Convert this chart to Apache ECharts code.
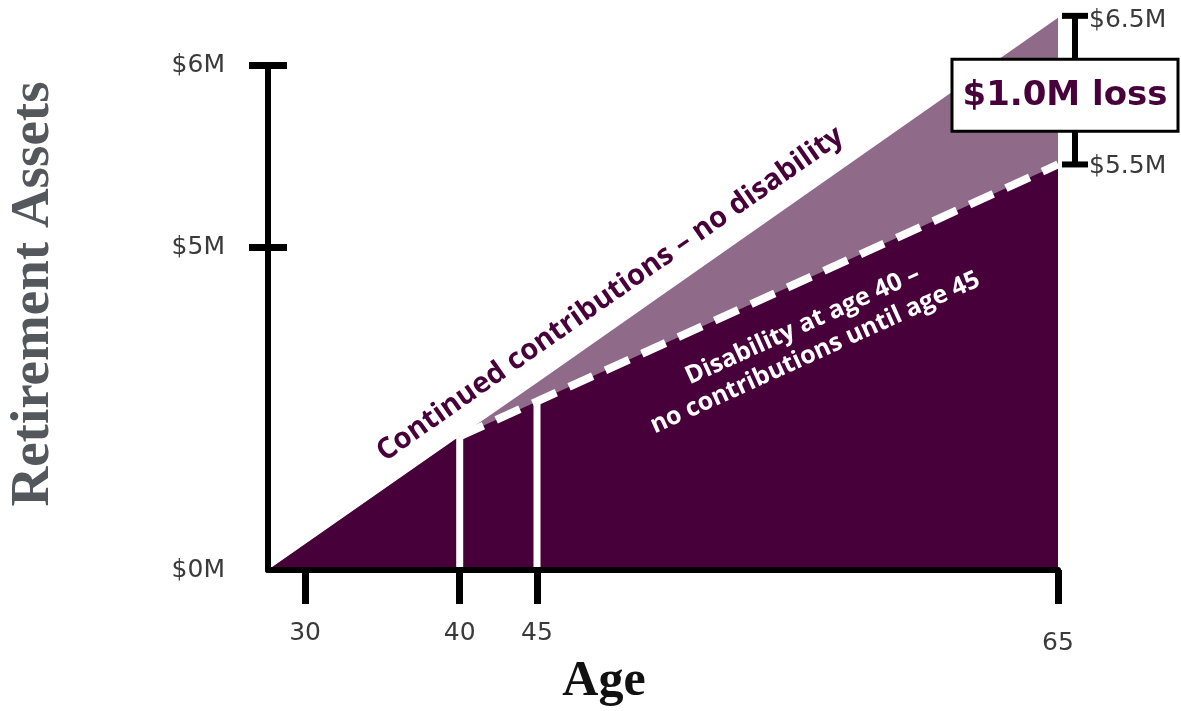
<!DOCTYPE html>
<html>
<head>
<meta charset="utf-8">
<script src="https://cdn.jsdelivr.net/npm/echarts@6/dist/echarts.min.js"></script>
<style>
  html, body { margin: 0; padding: 0; background: #fff; }
  #chart { width: 1181px; height: 711px; }
</style>
</head>
<body>
<div id="chart"></div>
<script>
// ---- Data (ages in years, assets in $M) ----
const ageTicks = [30, 40, 45, 65];
const assetTicksLeft = [0, 5, 6];
const continuedAges = [27.6, 40, 45, 65];
const continuedAssets = [0, 2.07, 2.9, 6.5];
const disabilityAges = [40, 45, 65];
const disabilityAssets = [2.07, 2.61, 5.5];
const breakAges = [40, 45];          // disability starts / contributions resume
const finalAge = 65;
const finalContinued = 6.5;
const finalDisability = 5.5;

// ---- Schematic scales: the drawing stretches later years and larger balances ----
const ageScale = { from: [27.6, 45, 65], to: [0, 17.4, 51.1] };
const assetScale = { from: [0, 5, 5.5, 6, 6.5], to: [0, 5, 6.28, 7.82, 8.55] };

function piecewise(v, from, to) {
  for (let i = 0; i < from.length - 1; i++) {
    if (v <= from[i + 1] || i === from.length - 2) {
      const t = (v - from[i]) / (from[i + 1] - from[i]);
      return to[i] + t * (to[i + 1] - to[i]);
    }
  }
}
const ax = a => piecewise(a, ageScale.from, ageScale.to);
const ay = v => piecewise(v, assetScale.from, assetScale.to);
const axInv = u => piecewise(u, ageScale.to, ageScale.from);
const ayInv = u => piecewise(u, assetScale.to, assetScale.from);

const dark = '#48003a';
const light = '#8f6b89';
const tickFont = '"DejaVu Sans", sans-serif';
const captionFont = '"Open Sans", sans-serif';
const tickColor = '#3a3a3a';

const continuedPts = continuedAges.map((a, i) => [ax(a), ay(continuedAssets[i])]);
const disabilityPts = disabilityAges.map((a, i) => [ax(a), ay(disabilityAssets[i])]);
// lower envelope: continued line up to age 40, then the disability path
const lowerPts = [continuedPts[0]].concat(disabilityPts);

const verticalSeries = breakAges.map(a => {
  const v = disabilityAssets[disabilityAges.indexOf(a)];
  return {
    type: 'line', clip: false, symbol: 'none', silent: true, z: 4,
    data: [[ax(a), 0], [ax(a), ay(v)]],
    lineStyle: { color: '#fff', width: 7 }
  };
});

const lineLabels = [
  { text: 'Continued contributions \u2013 no disability', at: 0.455, offset: 30,
    font: 'bold 29px ' + captionFont, color: dark, lineHeight: 32 },
  { text: 'Disability at age 40 \u2013\nno contributions until age 45', at: 0.545, offset: -56,
    font: 'bold 25px ' + captionFont, color: '#fff', lineHeight: 30 }
];

const chart = echarts.init(document.getElementById('chart'), null, { renderer: 'canvas' });

const yMaxUnit = ay(6);

chart.setOption({
  animation: false,
  backgroundColor: '#fff',
  grid: { left: 268, right: 123, top: 65, bottom: 141, containLabel: false },
  xAxis: {
    type: 'value', min: 0, max: ax(finalAge), z: 10,
    splitLine: { show: false },
    axisLine: { lineStyle: { color: '#000', width: 6 } },
    axisTick: { customValues: ageTicks.map(ax), length: 34, lineStyle: { color: '#000', width: 7 } },
    axisLabel: {
      customValues: ageTicks.map(ax), margin: 51,
      formatter: u => {
        const a = Math.round(axInv(u));
        return a === finalAge ? '{low|' + a + '}' : '{n|' + a + '}';
      },
      rich: {
        n: { fontFamily: tickFont, fontSize: 25, color: tickColor },
        low: { fontFamily: tickFont, fontSize: 25, color: tickColor, padding: [10, 0, 0, 0] }
      }
    }
  },
  yAxis: [
    {
      type: 'value', min: 0, max: yMaxUnit, position: 'left', z: 10,
      splitLine: { show: false },
      axisLine: { lineStyle: { color: '#000', width: 6 } },
      axisTick: { customValues: [ay(5), ay(6)], length: 19, lineStyle: { color: '#000', width: 7 } },
      axisLabel: {
        customValues: assetTicksLeft.map(ay), margin: 43,
        fontFamily: tickFont, fontSize: 25, color: tickColor,
        formatter: u => '$' + Math.round(ayInv(u)) + 'M'
      }
    },
    {
      type: 'value', min: 0, max: yMaxUnit, position: 'left', z: 10,
      splitLine: { show: false },
      axisLine: { show: false },
      axisTick: { inside: true, customValues: [ay(5), ay(6)], length: 19, lineStyle: { color: '#000', width: 7 } },
      axisLabel: { show: false }
    }
  ],
  graphic: [
    {
      type: 'text', x: 34, y: 294, rotation: Math.PI / 2,
      style: { text: 'Retirement Assets', font: 'bold 55px "Liberation Serif", serif',
               fill: '#54585c', align: 'center', verticalAlign: 'middle' }
    },
    {
      type: 'text', x: 604, y: 682,
      style: { text: 'Age', font: 'bold 50px "Liberation Serif", serif',
               fill: '#111', align: 'center', verticalAlign: 'middle' }
    }
  ],
  series: [
    {
      name: 'Continued contributions', type: 'line', clip: false, symbol: 'none', z: 2,
      data: continuedPts,
      lineStyle: { width: 0 },
      areaStyle: { color: light, opacity: 1 }
    },
    {
      name: 'Disability at age 40', type: 'line', clip: false, symbol: 'none', z: 3,
      data: lowerPts,
      lineStyle: { width: 0 },
      areaStyle: { color: dark, opacity: 1 }
    },
    {
      name: 'Disability path', type: 'line', clip: false, symbol: 'none', z: 5,
      data: disabilityPts,
      lineStyle: { color: '#fff', width: 8, type: [26, 14] }
    },
    ...verticalSeries,
    {
      // rotated captions laid along each path
      type: 'custom', clip: false, z: 6, silent: true,
      data: [
        [continuedPts[0][0], continuedPts[0][1], continuedPts[3][0], continuedPts[3][1]],
        [disabilityPts[0][0], disabilityPts[0][1], disabilityPts[2][0], disabilityPts[2][1]]
      ],
      renderItem: (params, api) => {
        const p0 = api.coord([api.value(0), api.value(1)]);
        const p1 = api.coord([api.value(2), api.value(3)]);
        const ang = Math.atan2(p0[1] - p1[1], p1[0] - p0[0]);
        const cfg = lineLabels[params.dataIndex];
        const px = p0[0] + (p1[0] - p0[0]) * cfg.at;
        const py = p0[1] + (p1[1] - p0[1]) * cfg.at;
        const nx = -Math.sin(ang), ny = -Math.cos(ang);
        return {
          type: 'text', x: px + nx * cfg.offset, y: py + ny * cfg.offset, rotation: ang,
          style: { text: cfg.text, font: cfg.font, fill: cfg.color, align: 'center',
                   verticalAlign: 'middle', lineHeight: cfg.lineHeight }
        };
      }
    },
    {
      // bracket showing the gap at the final age
      type: 'custom', clip: false, z: 7, silent: true,
      data: [[ax(finalAge), ay(finalContinued), ay(finalDisability), finalContinued, finalDisability]],
      renderItem: (params, api) => {
        const top = api.coord([api.value(0), api.value(1)]);
        const bot = api.coord([api.value(0), api.value(2)]);
        const hi = api.value(3), lo = api.value(4);
        const bx = top[0] + 17;
        const cap = 13;
        const midY = (top[1] + bot[1]) / 2 + 4;
        const stroke = { stroke: '#000', lineWidth: 6 };
        const txt = { font: '25px ' + tickFont, fill: tickColor, align: 'left', verticalAlign: 'middle' };
        return {
          type: 'group',
          children: [
            { type: 'line', shape: { x1: bx, y1: top[1] - 2, x2: bx, y2: bot[1] }, style: stroke },
            { type: 'line', shape: { x1: bx - cap, y1: top[1] - 2, x2: bx + cap, y2: top[1] - 2 }, style: stroke },
            { type: 'line', shape: { x1: bx - cap, y1: bot[1], x2: bx + cap, y2: bot[1] }, style: stroke },
            { type: 'rect', shape: { x: bx - 123, y: midY - 36, width: 226, height: 72 },
              style: { fill: '#fff', stroke: '#000', lineWidth: 3 } },
            { type: 'text', x: bx - 10, y: midY + 1,
              style: { text: '$' + (hi - lo).toFixed(1) + 'M loss', font: 'bold 34px "DejaVu Sans", sans-serif',
                       fill: dark, align: 'center', verticalAlign: 'middle' } },
            { type: 'text', x: bx + 14, y: top[1] + 3, style: Object.assign({ text: '$' + hi + 'M' }, txt) },
            { type: 'text', x: bx + 14, y: bot[1] + 2, style: Object.assign({ text: '$' + lo + 'M' }, txt) }
          ]
        };
      }
    }
  ]
});
</script>
</body>
</html>
